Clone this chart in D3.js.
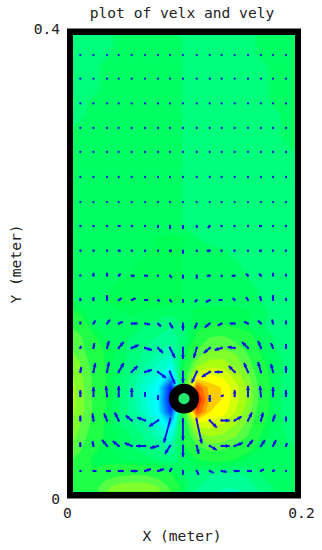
<!DOCTYPE html>
<html>
<head>
<meta charset="utf-8">
<title>plot of velx and vely</title>
<script src="https://cdn.jsdelivr.net/npm/d3@7"></script>
<style>
body { margin: 0; background: #fff; }
text { font-family: "DejaVu Sans Mono", monospace; font-size: 14.6px; fill: #222; }
</style>
</head>
<body>
<div id="chart"></div>
<script>
var titleText = 'plot of velx and vely';
var xLabelText = 'X (meter)';
var yLabelText = 'Y (meter)';
var xTickValues = [0, 0.2];
var xTickLabels = ['0', '0.2'];
var yTickValues = [0, 0.4];
var yTickLabels = ['0', '0.4'];

// cylinder in the flow, metres
var cylinderX = [0.1];
var cylinderY = [0.085];
var cylinderOuter = [0.0128];
var cylinderInner = [0.0048];

// arrow positions, metres
var gridX = [0.0114, 0.0226, 0.0342, 0.0442, 0.0553, 0.0667, 0.0778, 0.0880, 0.0991, 0.1109, 0.1220, 0.1322, 0.1433, 0.1547, 0.1658, 0.1761, 0.1872];
var gridY = [0.3774, 0.3573, 0.3362, 0.3153, 0.2949, 0.2736, 0.2523, 0.2319, 0.2109, 0.1896, 0.1689, 0.1489, 0.1281, 0.1077, 0.0872, 0.0664, 0.0447, 0.0234];

// x velocity, top row first
var velx = [
  [0,0,0,0,0,0,0,0,0,0,0,0,0,0,0,0,0],
  [0,0,0,0,0,0,0,0,0,0,0,0,0,0,0,0,0],
  [0,0,0,0,0,0,0,0,0,0,0,0,0,0,0,0,0],
  [0,0,0,0,0,0,0,0,0,0,0,0,0,0,0,0,0],
  [0,0,0,0,0,0,0,0,0,0,0,0,0,0,0,0,0],
  [0,0,0,0,0,0,0,0,0,0,0,0,0,0,0,0,0],
  [0,0,0,0,0,0,0,0,0,0,0,0,0,0,0,0,0],
  [1,1,1,2,1,1,0,0,0,0,-2,-1,-1,-1,-2,-1,-1],
  [1,1,1,2,1,0,1,2,0,0,-3,-1,-1,0,-2,-1,-1],
  [0,0,0,2,3,3,1,2,0,0,-3,0,-3,-2,-2,0,0],
  [0,0,0,3,4,3,2,2,0,-2,-4,-3,-2,-2,-1,0,0],
  [0,2,3,4,6,5,3,3,0,-2,-5,-4,-5,-4,-3,-1,0],
  [1,1,2,5,7,7,5,5,0,-3,-6,-7,-7,-6,-3,-2,0],
  [1,2,2,5,6,7,8,5,0,-5,-8,-7,-6,-4,-3,-2,0],
  [0,0,-1,0,0,0,0,0,0,0,0,2,0,0,-1,0,0],
  [0,-1,-3,-4,-6,-8,-9,-6,0,5,7,8,7,4,2,2,0],
  [0,-1,-5,-6,-7,-9,-8,-5,0,2,7,8,8,5,4,3,1],
  [1,3,4,5,6,6,6,2,0,2,4,5,5,4,3,2,1]
];

// y velocity, top row first
var vely = [
  [0,0,0,0,0,0,0,0,0,0,0,0,0,0,0,0,0],
  [0,0,0,0,0,0,0,0,0,0,0,0,0,0,0,0,0],
  [0,0,0,0,0,0,0,0,0,0,0,0,0,0,0,0,0],
  [0,0,0,0,0,0,0,0,0,0,0,0,0,0,0,0,0],
  [0,0,0,0,0,0,0,0,0,0,0,0,0,0,0,0,0],
  [0,0,0,0,0,0,0,0,0,0,0,0,0,0,0,0,0],
  [0,0,0,0,0,0,0,0,0,0,0,0,0,0,0,0,0],
  [0,0,0,0,0,0,-2,-3,-3,-2,-2,0,0,0,0,0,0],
  [0,0,0,0,0,-1,0,0,-3,-1,0,0,0,-1,0,0,0],
  [1,3,3,2,0,0,0,-2,-3,-3,0,-1,0,2,2,3,2],
  [2,3,5,2,2,0,-1,-2,-3,-2,-2,0,2,3,4,5,2],
  [2,3,4,2,0,-1,-3,-5,-7,-5,-4,-2,0,2,3,4,3],
  [2,5,7,6,3,-2,-5,-10,-11,-10,-5,-2,1,6,7,5,4],
  [5,9,10,9,6,2,-6,-12,-11,-11,-5,0,6,9,10,8,6],
  [6,9,10,10,8,4,-4,0,0,0,-6,1,6,10,10,9,6],
  [5,7,7,8,5,3,-6,-22,-20,-23,-7,0,4,8,8,6,4],
  [4,5,6,5,3,0,-2,-8,-11,-8,-4,0,3,6,6,6,3],
  [0,0,0,0,0,2,2,3,-4,-4,-2,-1,0,0,2,1,0]
];

// colour field in hundredths of the colour range, 19 columns, top row first
var fieldValues = [
  [-25,-25,-25,-25,-20,-20,-20,-20,-20,-23,-25,-25,-25,-25,-25,-20,-20,-20,-20],
  [-25,-25,-25,-25,-20,-20,-20,-20,-20,-23,-25,-25,-25,-25,-25,-20,-20,-20,-20],
  [-25,-25,-25,-25,-20,-20,-20,-20,-20,-23,-25,-25,-25,-25,-25,-20,-20,-20,-20],
  [-25,-25,-25,-20,-20,-20,-20,-20,-20,-23,-25,-25,-25,-25,-25,-25,-20,-20,-20],
  [-25,-25,-25,-20,-20,-20,-20,-20,-20,-23,-25,-25,-25,-25,-25,-25,-20,-20,-20],
  [-25,-25,-25,-20,-20,-20,-20,-20,-20,-23,-25,-25,-25,-25,-25,-25,-20,-20,-20],
  [-25,-25,-20,-20,-20,-20,-20,-20,-20,-23,-25,-25,-25,-25,-25,-25,-20,-20,-20],
  [-25,-25,-20,-20,-20,-20,-20,-20,-20,-23,-25,-25,-25,-25,-25,-25,-25,-20,-20],
  [-25,-20,-20,-20,-20,-20,-20,-20,-20,-23,-25,-25,-25,-25,-25,-25,-25,-20,-20],
  [-25,-20,-20,-20,-20,-20,-20,-20,-20,-23,-25,-25,-25,-25,-25,-25,-25,-20,-20],
  [-20,-20,-20,-20,-20,-20,-20,-20,-20,-23,-25,-25,-25,-25,-25,-25,-25,-25,-20],
  [-20,-20,-20,-20,-20,-20,-20,-20,-20,-23,-25,-25,-25,-25,-25,-25,-25,-25,-20],
  [-20,-20,-20,-20,-20,-20,-20,-20,-20,-23,-25,-25,-25,-25,-25,-25,-25,-25,-20],
  [-20,-20,-20,-20,-20,-20,-20,-20,-20,-23,-25,-25,-25,-25,-25,-25,-25,-25,-25],
  [-20,-20,-20,-20,-20,-20,-20,-20,-20,-23,-25,-25,-25,-25,-25,-25,-25,-25,-25],
  [-20,-20,-20,-20,-20,-20,-20,-20,-20,-23,-25,-25,-25,-25,-25,-25,-25,-25,-25],
  [-20,-20,-20,-20,-20,-20,-20,-20,-20,-23,-25,-25,-25,-25,-25,-25,-25,-25,-25],
  [-20,-20,-20,-20,-20,-20,-20,-17,-16,-17,-22,-25,-25,-25,-25,-25,-25,-25,-25],
  [-20,-20,-20,-20,-20,-20,-20,-15,-15,-18,-20,-20,-22,-25,-25,-25,-25,-25,-25],
  [-20,-20,-20,-20,-20,-20,-15,-15,-15,-18,-20,-20,-20,-22,-25,-25,-25,-25,-25],
  [-20,-20,-20,-20,-20,-15,-15,-15,-15,-18,-20,-20,-20,-20,-23,-25,-25,-25,-25],
  [-20,-20,-20,-20,-15,-15,-15,-15,-15,-18,-20,-20,-20,-20,-20,-24,-25,-25,-25],
  [-15,-20,-20,-17,-15,-15,-15,-15,-15,-18,-20,-20,-20,-20,-20,-23,-25,-25,-25],
  [-2,-14,-20,-20,-18,-17,-18,-20,-22,-20,-15,-15,-15,-15,-17,-20,-25,-25,-27],
  [5,-2,-18,-20,-20,-20,-22,-25,-27,-22,-15,-12,-12,-15,-18,-22,-25,-27,-27],
  [12,8,-10,-18,-21,-23,-26,-28,-30,-25,-10,6,8,0,-8,-18,-23,-25,-28],
  [18,10,-5,-14,-20,-24,-28,-32,-35,-22,6,15,16,12,2,-18,-22,-25,-27],
  [25,15,0,-14,-20,-25,-30,-37,-42,-15,18,28,28,20,8,-10,-20,-24,-27],
  [30,18,3,-13,-21,-28,-36,-42,-60,-5,40,45,42,30,15,-5,-20,-24,-27],
  [35,20,4,-12,-22,-30,-42,-50,-95,0,85,60,54,38,22,-2,-20,-25,-28],
  [35,20,4,-12,-22,-30,-42,-52,-100,0,100,62,54,38,22,-2,-20,-25,-28],
  [32,20,4,-13,-22,-30,-40,-50,-90,0,85,55,50,34,18,-5,-20,-25,-28],
  [28,15,2,-15,-22,-27,-32,-42,-58,-8,40,40,35,25,10,-10,-20,-24,-27],
  [22,12,-2,-15,-18,-23,-28,-35,-42,-10,18,25,22,15,3,-15,-20,-23,-25],
  [15,7,-10,-16,-19,-22,-25,-28,-32,-15,0,8,6,-2,-10,-18,-20,-22,-22],
  [8,-2,-15,-16,-17,-18,-20,-22,-25,-20,-15,-12,-12,-15,-20,-22,-22,-22,-22],
  [-10,-12,-10,-2,2,3,3,-2,-12,-22,-25,-27,-28,-28,-26,-22,-20,-20,-20],
  [-12,-10,-2,12,18,20,20,15,2,-20,-27,-30,-32,-32,-30,-25,-22,-20,-20],
  [-10,-10,3,20,25,27,27,20,8,-20,-30,-33,-35,-35,-33,-28,-22,-20,-20]
];

var colorStops = [-100, -50, -25, -20, -12, 10, 30, 50, 100];
var colorNames = ['#0000ff', '#00ffff', '#00ff7a', '#00ff62', '#00ff48', '#55ff44', '#aaff11', '#ffff00', '#ff0000'];

var width = 322;
var height = 550;
var frameWidth = 6;
var frameHeight = 7;

var x = d3.scaleLinear().domain([0, 0.2]).range([67, 301]);
var y = d3.scaleLinear().domain([0, 0.4]).range([498.5, 28.5]);
var velScale = d3.scaleLinear().domain([0, 1]).range([0, 1]);

var rainbow = d3.scaleLinear().domain(colorStops).range(colorNames);

var svg = d3.select('#chart').append('svg')
  .attr('width', width)
  .attr('height', height)
  .style('display', 'block');

svg.append('clipPath').attr('id', 'inner')
  .append('rect')
  .attr('x', x(0) + frameWidth)
  .attr('y', y(0.4) + frameHeight)
  .attr('width', x(0.2) - x(0) - 2 * frameWidth)
  .attr('height', y(0) - y(0.4) - 2 * frameHeight);

// black frame first, field is clipped inside it
svg.append('rect')
  .attr('x', x(0))
  .attr('y', y(0.4))
  .attr('width', x(0.2) - x(0))
  .attr('height', y(0) - y(0.4))
  .attr('fill', '#000');

var plot = svg.append('g').attr('clip-path', 'url(#inner)');

// filled contour bands
var nCols = fieldValues[0].length;
var nRows = fieldValues.length;
var fieldX = d3.scaleLinear().domain([0.5, nCols - 0.5]).range([x(0), x(0.2)]);
var fieldY = d3.scaleLinear().domain([0.5, nRows - 0.5]).range([y(0.4), y(0)]);
var path = d3.geoPath().projection(d3.geoTransform({
  point: function(a, b) { this.stream.point(fieldX(a), fieldY(b)); }
}));

var thresholds = d3.range(-102.5, -7.5, 5).concat(d3.range(5, 105, 10));
var bands = d3.contours()
  .size([nCols, nRows])
  .thresholds(thresholds)(d3.merge(fieldValues));

plot.selectAll('path.band')
  .data(bands)
  .enter().append('path')
  .attr('class', 'band')
  .attr('d', path)
  .attr('fill', function(d, i) {
    var next = i + 1 < thresholds.length ? thresholds[i + 1] : 100;
    return rainbow((d.value + next) / 2);
  });

// arrows
var arrows = [];
gridY.forEach(function(gy, r) {
  gridX.forEach(function(gx, c) {
    arrows.push({ px: x(gx), py: y(gy), dx: velScale(velx[r][c]), dy: -velScale(vely[r][c]) });
  });
});

plot.selectAll('line.shaft')
  .data(arrows.filter(function(a) { return a.dx || a.dy; }))
  .enter().append('line')
  .attr('class', 'shaft')
  .attr('x1', function(a) { return a.px - 0.12 * a.dx; })
  .attr('y1', function(a) { return a.py - 0.12 * a.dy; })
  .attr('x2', function(a) { return a.px + a.dx; })
  .attr('y2', function(a) { return a.py + a.dy; })
  .attr('stroke', '#1010e8')
  .attr('stroke-width', 1.9);

plot.selectAll('path.head')
  .data(arrows)
  .enter().append('path')
  .attr('class', 'head')
  .attr('fill', '#1010e8')
  .attr('d', function(a) {
    var len = Math.hypot(a.dx, a.dy);
    if (!len) return d3.path().toString();
    var ux = a.dx / len, uy = a.dy / len;
    var hl = Math.min(4, len * 0.6), hw = Math.min(2, 0.8 + len * 0.15);
    var tx = a.px + a.dx, ty = a.py + a.dy;
    var p = d3.path();
    p.moveTo(tx, ty);
    p.lineTo(tx - ux * hl - uy * hw, ty - uy * hl + ux * hw);
    p.lineTo(tx - ux * hl + uy * hw, ty - uy * hl - ux * hw);
    p.closePath();
    return p.toString();
  });

plot.selectAll('circle.dot')
  .data(arrows)
  .enter().append('circle')
  .attr('class', 'dot')
  .attr('cx', function(a) { return a.px; })
  .attr('cy', function(a) { return a.py; })
  .attr('r', 1.15)
  .attr('fill', '#1010e8');

// cylinder
cylinderX.forEach(function(cx, i) {
  var outer = x(cylinderOuter[i]) - x(0);
  var inner = x(cylinderInner[i]) - x(0);
  plot.append('circle')
    .attr('cx', x(cx))
    .attr('cy', y(cylinderY[i]))
    .attr('r', (outer + inner) / 2)
    .attr('fill', '#20e870')
    .attr('stroke', '#000')
    .attr('stroke-width', outer - inner);
});

// axes, only the labels are kept
var xAxis = d3.axisBottom(x)
  .tickValues(xTickValues)
  .tickSize(0)
  .tickPadding(9)
  .tickFormat(function(d, i) { return xTickLabels[i]; });

var yAxis = d3.axisLeft(y)
  .tickValues(yTickValues)
  .tickSize(0)
  .tickPadding(7)
  .tickFormat(function(d, i) { return yTickLabels[i]; });

var gx = svg.append('g').attr('transform', 'translate(0,' + y(0) + ')').call(xAxis);
var gy = svg.append('g').attr('transform', 'translate(' + x(0) + ',0)').call(yAxis);
gx.select('.domain').remove();
gy.select('.domain').remove();
gx.attr('font-family', null).attr('font-size', null);
gy.attr('font-family', null).attr('font-size', null);

svg.append('text')
  .attr('x', 182)
  .attr('y', 18)
  .attr('text-anchor', 'middle')
  .text(titleText);

svg.append('text')
  .attr('x', 182)
  .attr('y', 541)
  .attr('text-anchor', 'middle')
  .text(xLabelText);

svg.append('text')
  .attr('transform', 'translate(21,264) rotate(-90)')
  .attr('text-anchor', 'middle')
  .text(yLabelText);
</script>
</body>
</html>
